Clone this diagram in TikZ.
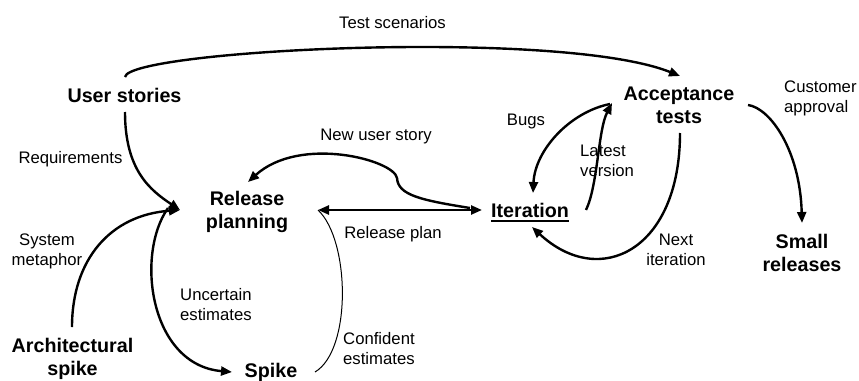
\documentclass[tikz,border=0pt]{standalone}
\usepackage{fontspec}
\setmainfont{Liberation Sans}
\usetikzlibrary{arrows.meta}
\newcommand\twoc[2]{\vtop{\halign{\hfil##\hfil\cr#1\cr#2\cr}}}
\newcommand\twol[2]{\vtop{\halign{##\hfil\cr#1\cr#2\cr}}}
\newcommand\ulbox[1]{\setbox0\hbox{#1}\rlap{\rule[-5pt]{\wd0}{2pt}}\box0}
\tikzset{
  lbl/.style={font=\fontsize{16.7}{20.5}\selectfont, inner sep=0pt, anchor=base},
  lbll/.style={font=\fontsize{16.7}{20.5}\selectfont, inner sep=0pt, anchor=base west},
  bld/.style={font=\fontsize{19.7}{23}\selectfont\bfseries, inner sep=0pt, anchor=base},
  tip/.style={Triangle[length=11pt,width=9pt]},
  conn/.style={line width=2.4pt, -{Triangle[length=11pt,width=9pt]}},
  dconn/.style={line width=2.4pt, {Triangle[length=11pt,width=9pt]}-{Triangle[length=11pt,width=9pt]}},
  thinconn/.style={line width=1pt},
}
\begin{document}
\begin{tikzpicture}[x=1pt,y=-1pt]
\fill[white] (0,0) rectangle (859,380);
\useasboundingbox (0,0) rectangle (859,380);
% main nodes
\node[bld] (us) at (124.5,102) {User stories};
\node[bld] (at) at (679,100) {\twoc{Acceptance}{tests}};
\node[bld] (rp) at (247,205) {\twoc{Release}{planning}};
\node[bld] (it) at (530,217) {\ulbox{Iteration}};
\node[bld] (as) at (72.5,352) {\twoc{Architectural}{spike}};
\node[bld] (sp) at (271,377) {Spike};
\node[bld] (sr) at (802,248) {\twoc{Small}{releases}};
% labels
\node[lbl] (ts) at (392.5,28) {Test scenarios};
\node[lbll] (ca) at (784,92) {\twol{Customer}{approval}};
\node[lbl] (bugs) at (526,125) {Bugs};
\node[lbll] (lv) at (580,156) {\twol{Latest}{version}};
\node[lbl] (nus) at (376,140) {New user story};
\node[lbl] (req) at (70.5,163) {Requirements};
\node[lbl] (rpl) at (393,238) {Release plan};
\node[lbl] (sm) at (47,245) {\twoc{System}{metaphor}};
\node[lbll] (ue) at (180,300) {\twol{Uncertain}{estimates}};
\node[lbll] (ce) at (343,344) {\twol{Confident}{estimates}};
\node[lbl] (ni) at (676,245) {\twoc{Next}{iteration}};
\coordinate (nuskink) at (397,178);
% connectors
\draw[conn] ([shift={(0.5,-25)}]us.base) .. controls (128,50) and (560,28) .. ([shift={(1,-24)}]at.base);
\draw[conn] ([shift={(0.5,10)}]us.base) .. controls (125,170) and (150,190) .. ([shift={(-67,5)}]rp.base);
\draw[conn] ([shift={(-0.5,-25)}]as.base) .. controls (72,260) and (110,215) .. ([shift={(-67,5)}]rp.base);
\draw[conn] ([shift={(-79,3)}]rp.base) .. controls (135,255) and (150,365) .. ([shift={(-39,-5)}]sp.base);
\draw[thinconn] ([shift={(44,-5)}]sp.base) .. controls (352,350) and (350,240) .. ([shift={(71,5)}]rp.base);
\draw[dconn] ([shift={(71,5)}]rp.base) -- ([shift={(-48,-7)}]it.base);
\draw[conn] ([shift={(-60,-9)}]it.base) .. controls (420,200) and (398,195) .. (nuskink) .. controls (394,160) and (300,135) .. ([shift={(1,-23)}]rp.base);
\draw[conn] ([shift={(-69,4)}]at.base) .. controls (570,112) and (535,150) .. ([shift={(3,-24)}]it.base);
\draw[conn] ([shift={(56,-7)}]it.base) .. controls (598,185) and (598,130) .. ([shift={(-67,3)}]at.base);
\draw[conn] ([shift={(1,33)}]at.base) .. controls (680,250) and (600,290) .. ([shift={(2,10)}]it.base);
\draw[conn] ([shift={(69,5)}]at.base) .. controls (770,108) and (800,150) .. ([shift={(0,-25)}]sr.base);
\end{tikzpicture}
\end{document}
